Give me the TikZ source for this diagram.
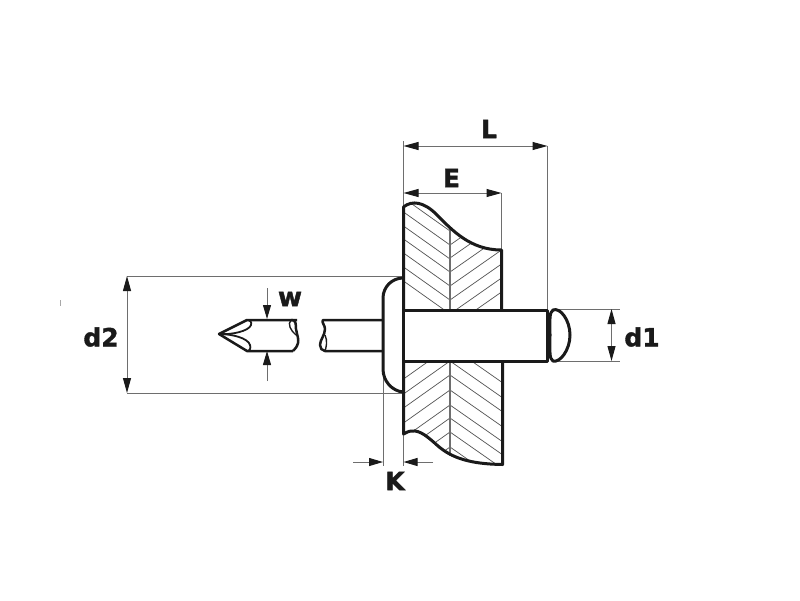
\documentclass[tikz,border=0pt]{standalone}
\usepackage{fontspec}
\setmainfont{DejaVu Sans}
\usetikzlibrary{arrows.meta}
\definecolor{ink}{HTML}{1A1A1A}
\definecolor{dimc}{HTML}{6E6E6E}
\newfontfamily\labfont[FakeBold=1.5]{DejaVu Sans Bold}
\tikzset{
  thickline/.style={draw=ink,line width=3pt,line join=round},
  medline/.style={draw=ink,line width=2.5pt,line join=round},
  hatchline/.style={draw=ink!75,line width=.7pt},
  dimline/.style={draw=dimc,line width=1pt},
  dimarrow/.style={draw=dimc,line width=1pt,{Triangle[length=15pt,width=8pt,color=ink]}-{Triangle[length=15pt,width=8pt,color=ink]}},
  onearrow/.style={draw=dimc,line width=1pt,-{Triangle[length=14pt,width=8pt,color=ink]}},
  lab/.style={font=\labfont\fontsize{25}{25}\selectfont,text=ink,inner sep=0pt}
}
\begin{document}
\begin{tikzpicture}[x=1pt,y=-1pt]
\useasboundingbox (0,0) rectangle (800,600);
\fill[white] (0,0) rectangle (800,600);
% named points
\coordinate (Ll) at (403.5,146); \coordinate (Lr) at (547.5,146);
\coordinate (El) at (403.5,193); \coordinate (Er) at (501.5,193);
\coordinate (d2t) at (127,276); \coordinate (d2b) at (127,393);
\coordinate (d1t) at (611.5,309); \coordinate (d1b) at (611.5,361);
\coordinate (Kl) at (383,462); \coordinate (Kr) at (403.5,462);
\coordinate (Kls) at (353,462); \coordinate (Krs) at (433,462);
\coordinate (wt) at (267,319); \coordinate (wts) at (267,288);
\coordinate (wb) at (267,351); \coordinate (wbs) at (267,381);
% hatching: upper part
\begin{scope}
\clip (403.5,207) .. controls (412,200) and (424,202) .. (436,214) .. controls (452,230) and (470,250) .. (501.5,250) -- (501.5,310) -- (403.5,310) -- cycle;
\foreach \y in {189,203,217,231,245,259,272,286,300,314}{
  \draw[hatchline] (403.5,\y-33) -- (450,\y);
}
\foreach \y in {245,258,272,286,300,314,328}{
  \draw[hatchline] (450,\y) -- (501.5,\y-36);
}
\end{scope}
% hatching: lower part
\begin{scope}
\clip (403.5,361) -- (501.5,361) -- (501.5,464.5) .. controls (470,464) and (452,458) .. (438,446) .. controls (428,437) and (420,430) .. (412,431) .. controls (408,431) and (406,433) .. (403.5,434) -- cycle;
\foreach \y in {346,361,375,390,405,418,432,447,461}{
  \draw[hatchline] (450,\y) -- (403.5,\y+33);
  \draw[hatchline] (450,\y) -- (501.5,\y+36);
}
\end{scope}
\draw[draw=dimc,line width=1.3pt] (450,227) -- (450,310);
\draw[draw=dimc,line width=1.3pt] (450,361) -- (450,456);
% dimension guide lines
\draw[dimline] (403.5,141) -- (403.5,207);
\draw[dimline] (547.5,146) -- (547.5,310);
\draw[dimline] (501.5,193) -- (501.5,250);
\draw[dimline] (127,276) -- (402,276);
\draw[dimline] (127,393) -- (403,393);
\draw[dimline] (553,309) -- (620,309);
\draw[dimline] (553,361.5) -- (620,361.5);
\draw[dimline] (383,370) -- (383,466);
\draw[dimline] (403.5,434) -- (403.5,466);
% dimension arrows
\draw[dimarrow] (Ll) -- (Lr);
\draw[dimarrow] (El) -- (Er);
\draw[dimarrow] (d2t) -- (d2b);
\draw[dimarrow] (d1t) -- (d1b);
\draw[onearrow] (Kls) -- (Kl);
\draw[onearrow] (Krs) -- (Kr);
\draw[onearrow] (wts) -- (wt);
\draw[onearrow] (wbs) -- (wb);
% plate outline
\draw[thickline] (403.5,310) -- (403.5,207) .. controls (412,200) and (424,202) .. (436,214) .. controls (452,230) and (470,250) .. (501.5,250) -- (501.5,310);
\draw[thickline] (403.5,361) -- (403.5,434) .. controls (406,433) and (408,431) .. (412,431) .. controls (420,430) and (428,437) .. (438,446) .. controls (452,458) and (470,464) .. (502.5,464.5) -- (502.5,361);
% rivet body and head
\draw[thickline,fill=white] (403.5,310) -- (547,310) -- (547,361) -- (403.5,361) -- cycle;
\draw[thickline] (403,278) .. controls (392,278) and (383,287) .. (383,298) -- (383,369) .. controls (383,381) and (392,391) .. (403,392);
% mandrel stub
\draw[medline] (383,320) -- (323,320) .. controls (321,322) and (325,325) .. (325,329) .. controls (325,335) and (320,340) .. (320,345) .. controls (320,348) and (322,351) .. (325,351) -- (383,351);
\draw[medline,line width=1.4pt] (325,335) .. controls (328,341) and (326,348) .. (325,351);
% mandrel tip
\draw[medline] (297,320) -- (247,320) -- (219,334) -- (247,351) -- (293,351);
\draw[medline,line width=1.8pt] (219,334) .. controls (232,335) and (249,331) .. (251,325) .. controls (252,322) and (250,320) .. (247,320);
\draw[medline,line width=1.8pt] (219,334) .. controls (232,334) and (248,338) .. (250,345) .. controls (251,348) and (250,351) .. (247,351);
\draw[medline] (291,320) .. controls (296,319) and (296,325) .. (296,329) .. controls (297,335) and (299,339) .. (298,343) .. controls (297,347) and (295,349) .. (293,351);
\draw[medline,line width=1.4pt] (291,320) .. controls (287,324) and (291,331) .. (296,335);
% mandrel head (bulb)
\draw[thickline] (553,310) .. controls (549,312) and (550,322) .. (550,335) .. controls (550,350) and (549,359) .. (553,361) .. controls (560,363) and (570,350) .. (570,335) .. controls (570,320) and (560,307) .. (553,310) -- cycle;
% stray mark
\draw[draw=dimc!60,line width=.8pt] (60,300) -- (60,306);
% labels
\node[lab] (labL) at (489,129) {L};
\node[lab] (labE) at (451.5,178) {E};
\node[lab] (labd2) at (101,337) {d2};
\node[lab] (labd1) at (642,337) {d1};
\node[lab,font=\labfont\fontsize{26}{26}\selectfont] (labw) at (290,299) {w};
\node[lab] (labK) at (395,481) {K};
\end{tikzpicture}
\end{document}
